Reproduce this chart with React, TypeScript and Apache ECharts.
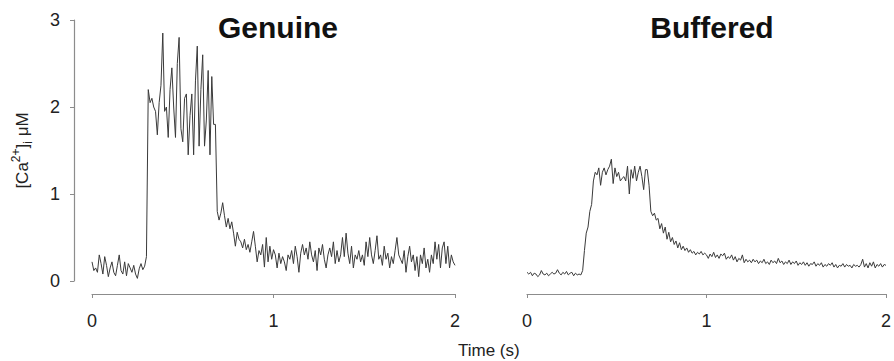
import React, { useEffect, useRef } from "react";
import * as echarts from "echarts";

const timeStep = 0.01;
const xTicks = [0, 1, 2];
const yTicks = [0, 1, 2, 3];
const panelTitles = ["Genuine", "Buffered"];

const genuine = [
  0.22, 0.12, 0.15, 0.10, 0.30, 0.20, 0.08, 0.28, 0.18, 0.05,
  0.15, 0.22, 0.10, 0.06, 0.18, 0.30, 0.12, 0.08, 0.22, 0.06,
  0.20, 0.15, 0.10, 0.18, 0.08, 0.03, 0.14, 0.20, 0.13, 0.17,
  0.28, 2.20, 2.05, 2.10, 2.00, 1.95, 1.68, 2.05, 2.25, 2.85,
  1.95, 2.00, 1.65, 2.20, 2.45, 2.00, 1.65, 2.50, 2.80, 1.75,
  1.60, 2.10, 2.15, 1.45, 1.90, 2.15, 1.45, 2.30, 2.70, 1.55,
  2.20, 2.60, 1.55, 1.85, 2.42, 1.45, 2.35, 1.80, 1.80, 0.80,
  0.70, 0.78, 0.90, 0.75, 0.62, 0.72, 0.60, 0.68, 0.55, 0.40,
  0.56, 0.48, 0.45, 0.38, 0.48, 0.36, 0.42, 0.33, 0.45, 0.57,
  0.40, 0.22, 0.35, 0.30, 0.42, 0.16, 0.50, 0.22, 0.40, 0.25,
  0.36, 0.30, 0.15, 0.32, 0.20, 0.28, 0.22, 0.12, 0.30, 0.25,
  0.35, 0.20, 0.40, 0.28, 0.10, 0.32, 0.42, 0.30, 0.38, 0.25,
  0.45, 0.30, 0.22, 0.35, 0.12, 0.38, 0.30, 0.42, 0.25, 0.15,
  0.30, 0.38, 0.28, 0.45, 0.20, 0.35, 0.22, 0.30, 0.50, 0.28,
  0.55, 0.32, 0.20, 0.40, 0.15, 0.30, 0.25, 0.35, 0.22, 0.30,
  0.18, 0.45, 0.28, 0.50, 0.30, 0.20, 0.35, 0.52, 0.25, 0.30,
  0.18, 0.40, 0.25, 0.32, 0.15, 0.28, 0.20, 0.35, 0.50, 0.30,
  0.25, 0.20, 0.35, 0.10, 0.28, 0.40, 0.22, 0.30, 0.12, 0.28,
  0.05, 0.30, 0.20, 0.38, 0.15, 0.25, 0.10, 0.30, 0.20, 0.45,
  0.25, 0.42, 0.15, 0.38, 0.45, 0.20, 0.40, 0.15, 0.30, 0.22,
  0.18,
];

const buffered = [
  0.10, 0.08, 0.10, 0.06, 0.09, 0.08, 0.05, 0.07, 0.12, 0.08,
  0.07, 0.09, 0.06, 0.08, 0.10, 0.08, 0.09, 0.13, 0.09, 0.07,
  0.10, 0.08, 0.11, 0.07, 0.09, 0.10, 0.06, 0.09, 0.07, 0.08,
  0.07, 0.12, 0.35, 0.55, 0.62, 0.80, 0.88, 1.15, 1.25, 1.22,
  1.30, 1.10, 1.25, 1.30, 1.22, 1.28, 1.32, 1.40, 1.12, 1.30,
  1.20, 1.25, 1.15, 1.18, 1.20, 1.15, 1.32, 1.00, 1.28, 1.18,
  1.32, 1.15, 1.25, 1.32, 1.20, 1.05, 1.28, 1.28, 1.10, 0.80,
  0.75, 0.78, 0.70, 0.72, 0.60, 0.66, 0.55, 0.62, 0.48, 0.56,
  0.45, 0.50, 0.42, 0.46, 0.38, 0.44, 0.36, 0.40, 0.35, 0.38,
  0.33, 0.36, 0.32, 0.34, 0.30, 0.33, 0.31, 0.34, 0.30, 0.32,
  0.30, 0.26, 0.31, 0.28, 0.33, 0.27, 0.30, 0.26, 0.31, 0.29,
  0.32, 0.25, 0.28, 0.26, 0.30, 0.24, 0.28, 0.22, 0.26, 0.24,
  0.30, 0.21, 0.25, 0.22, 0.24, 0.21, 0.25, 0.22, 0.24, 0.20,
  0.23, 0.21, 0.25, 0.20, 0.22, 0.19, 0.24, 0.21, 0.23, 0.20,
  0.26, 0.21, 0.23, 0.19, 0.22, 0.20, 0.24, 0.19, 0.22, 0.20,
  0.23, 0.18, 0.21, 0.19, 0.22, 0.18, 0.21, 0.17, 0.20, 0.19,
  0.22, 0.17, 0.20, 0.18, 0.21, 0.16, 0.19, 0.17, 0.20, 0.18,
  0.21, 0.16, 0.19, 0.15, 0.18, 0.17, 0.20, 0.16, 0.19, 0.17,
  0.18, 0.15, 0.19, 0.17, 0.18, 0.16, 0.19, 0.25, 0.16, 0.20,
  0.15, 0.21, 0.17, 0.22, 0.15, 0.19, 0.17, 0.20, 0.16, 0.19,
  0.18,
];

const toPairs = (vals: number[]) => vals.map((v, i) => [+(i * timeStep).toFixed(2), v]);

export default function App() {
  const ref = useRef<HTMLDivElement>(null);
  useEffect(() => {
    if (!ref.current) return;
    const chart = echarts.init(ref.current, null, { renderer: "svg" });
    const font = "'Liberation Sans', Arial, sans-serif";
    const axisGray = "#8c8c8c";
    const xAxisBase = {
      type: "value" as const,
      min: xTicks[0],
      max: xTicks[xTicks.length - 1],
      interval: 1,
      offset: 13,
      axisLine: { show: true, onZero: false, lineStyle: { color: axisGray, width: 1.2 } },
      axisTick: { show: true, length: 4, lineStyle: { color: axisGray } },
      axisLabel: { fontSize: 18, color: "#222", fontFamily: font, margin: 18 },
      splitLine: { show: false },
    };
    chart.setOption({
      animation: false,
      backgroundColor: "#fff",
      title: panelTitles.map((t, i) => ({
        text: t,
        left: i === 0 ? 273 : 707,
        top: 7,
        textAlign: "center",
        textStyle: { fontSize: 30, fontWeight: "bold", color: "#111", fontFamily: font },
      })),
      grid: [
        { left: 92, right: 439, top: 20, bottom: 80 },
        { left: 527, right: 6, top: 20, bottom: 80 },
      ],
      xAxis: [
        { ...xAxisBase, gridIndex: 0 },
        { ...xAxisBase, gridIndex: 1 },
      ],
      yAxis: [
        {
          type: "value",
          gridIndex: 0,
          min: yTicks[0],
          max: yTicks[yTicks.length - 1],
          interval: 1,
          offset: 18,
          axisLine: { show: true, onZero: false, lineStyle: { color: axisGray, width: 1.2 } },
          axisTick: { show: true, length: 4, lineStyle: { color: axisGray } },
          axisLabel: { fontSize: 18, color: "#222", fontFamily: font, margin: 14 },
          splitLine: { show: false },
          name: "{n|[Ca}{sup|2+}{n|]}{sub|i}{n| μM}",
          nameLocation: "middle",
          nameGap: 40,
          nameRotate: 90,
          nameTextStyle: {
            fontFamily: font,
            color: "#222",
            rich: {
              n: { fontSize: 17, fontFamily: font, color: "#222", lineHeight: 24 },
              sup: { fontSize: 12, fontFamily: font, color: "#222", verticalAlign: "top", lineHeight: 24 },
              sub: { fontSize: 12, fontFamily: font, color: "#222", verticalAlign: "bottom", lineHeight: 24 },
            },
          },
        },
        {
          type: "value",
          gridIndex: 1,
          min: 0,
          max: 3,
          interval: 1,
          show: false,
        },
      ],
      graphic: [
        {
          type: "text",
          left: 458,
          top: 342,
          style: { text: "Time (s)", fontSize: 17, fill: "#222", fontFamily: font },
        },
      ],
      series: [
        {
          type: "line",
          xAxisIndex: 0,
          yAxisIndex: 0,
          data: toPairs(genuine),
          showSymbol: false,
          lineStyle: { color: "#3a3a3a", width: 1 },
        },
        {
          type: "line",
          xAxisIndex: 1,
          yAxisIndex: 1,
          data: toPairs(buffered),
          showSymbol: false,
          lineStyle: { color: "#3a3a3a", width: 1 },
        },
      ],
    });
    return () => chart.dispose();
  }, []);
  return <div ref={ref} style={{ width: 894, height: 361, position: "absolute", left: 0, top: 0 }} />;
}
